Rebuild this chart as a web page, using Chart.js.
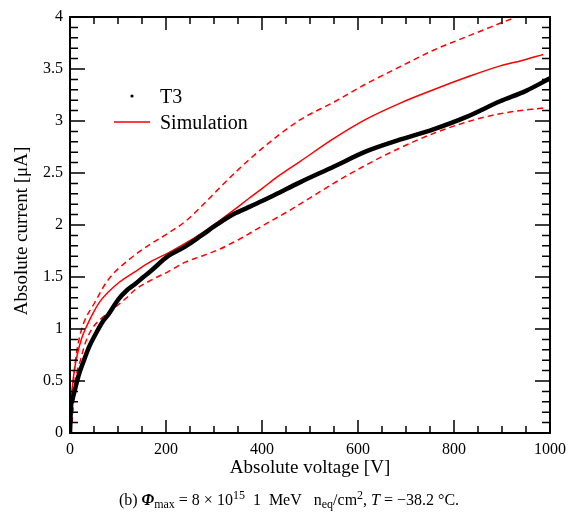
<!DOCTYPE html>
<html>
<head>
<meta charset="utf-8">
<script src="https://cdn.jsdelivr.net/npm/chart.js@4.4.0/dist/chart.umd.min.js"></script>
<style>
  html, body { margin: 0; padding: 0; background: #fff; }
  #wrap { width: 579px; height: 516px; }
</style>
</head>
<body>
<div id="wrap"><canvas id="ivChart" width="579" height="516"></canvas></div>
<script>
// measured T3 data (absolute values)
const t3Voltage = [0, 2, 5, 12, 19, 30, 40, 52, 68, 80, 100, 118, 135, 153, 169, 204, 239, 274, 308, 343, 367, 400, 431, 479, 549, 618, 687, 757, 826, 896, 950, 1000];
const t3Current = [0, 0.25, 0.32, 0.45, 0.57, 0.71, 0.83, 0.94, 1.07, 1.14, 1.28, 1.37, 1.43, 1.50, 1.56, 1.70, 1.79, 1.90, 2.01, 2.11, 2.16, 2.23, 2.30, 2.41, 2.56, 2.71, 2.82, 2.92, 3.04, 3.19, 3.29, 3.41];

// simulation, central curve
const simVoltage = [0, 2, 5, 9, 15, 25, 35, 50, 65, 100, 135, 169, 204, 239, 274, 308, 343, 371, 400, 431, 479, 549, 618, 687, 757, 826, 896, 940, 986];
const simCurrent = [0, 0.28, 0.45, 0.60, 0.75, 0.92, 1.03, 1.17, 1.28, 1.44, 1.55, 1.65, 1.73, 1.82, 1.92, 2.03, 2.15, 2.25, 2.35, 2.46, 2.61, 2.83, 3.02, 3.17, 3.30, 3.42, 3.53, 3.58, 3.64];

// simulation, upper / lower bands (dashed)
const simUpVoltage = [0, 3, 10, 17, 28, 51, 79, 121, 169, 204, 239, 274, 308, 350, 396, 479, 549, 618, 687, 757, 826, 880, 930, 960];
const simUpCurrent = [0, 0.2, 0.64, 0.86, 1.05, 1.25, 1.47, 1.66, 1.82, 1.92, 2.03, 2.18, 2.34, 2.53, 2.72, 3.01, 3.18, 3.36, 3.52, 3.68, 3.81, 3.91, 4.0, 4.05];
const simLowVoltage = [0, 4, 10, 23, 33, 47, 65, 86, 118, 135, 169, 204, 239, 274, 308, 343, 371, 400, 450, 500, 549, 618, 687, 757, 826, 896, 993];
const simLowCurrent = [0, 0.09, 0.45, 0.72, 0.88, 1.01, 1.10, 1.18, 1.30, 1.375, 1.47, 1.55, 1.64, 1.70, 1.76, 1.84, 1.91, 1.99, 2.12, 2.26, 2.40, 2.58, 2.74, 2.88, 2.99, 3.07, 3.13];

const toPoints = (xs, ys) => xs.map((v, i) => ({ x: v, y: ys[i] }));

const SERIF = '"Liberation Serif", "DejaVu Serif", serif';

// frame, inward ticks, legend, axis titles and caption
const decorPlugin = {
  id: 'decor',
  afterDraw(chart) {
    const { ctx, chartArea: a, scales: { x, y } } = chart;
    ctx.save();
    ctx.strokeStyle = '#000';
    ctx.lineWidth = 1.5;
    for (let v = 0; v <= 1000; v += 50) {
      const px = x.getPixelForValue(v);
      const len = v % 200 === 0 ? 13 : 7;
      ctx.beginPath();
      ctx.moveTo(px, a.bottom); ctx.lineTo(px, a.bottom - len);
      ctx.moveTo(px, a.top); ctx.lineTo(px, a.top + len);
      ctx.stroke();
    }
    for (let k = 0; k <= 40; k++) {
      const py = y.getPixelForValue(k / 10);
      const len = k % 5 === 0 ? 15 : 8;
      ctx.beginPath();
      ctx.moveTo(a.left, py); ctx.lineTo(a.left + len, py);
      ctx.moveTo(a.right, py); ctx.lineTo(a.right - len, py);
      ctx.stroke();
    }
    ctx.lineWidth = 2;
    ctx.strokeRect(a.left, a.top, a.right - a.left, a.bottom - a.top);

    // legend
    ctx.fillStyle = '#000';
    ctx.beginPath(); ctx.arc(132, 96, 1.6, 0, Math.PI * 2); ctx.fill();
    ctx.strokeStyle = '#ff0000'; ctx.lineWidth = 1.5;
    ctx.beginPath(); ctx.moveTo(114, 122); ctx.lineTo(150, 122); ctx.stroke();
    ctx.font = '20px ' + SERIF;
    ctx.textAlign = 'left'; ctx.textBaseline = 'alphabetic';
    ctx.fillText('T3', 160, 103);
    ctx.fillText('Simulation', 160, 129);

    // axis titles
    ctx.font = '19px ' + SERIF;
    ctx.textAlign = 'center';
    ctx.fillText('Absolute voltage [V]', (a.left + a.right) / 2, 473);
    ctx.save();
    ctx.translate(22, (a.top + a.bottom) / 2 + 6);
    ctx.rotate(-Math.PI / 2);
    ctx.textBaseline = 'middle';
    ctx.fillText('Absolute current [\u03BCA]', 0, 0);
    ctx.restore();

    // caption
    const parts = [
      { t: '(b) ' },
      { t: '\u03A6', it: true, bold: true },
      { t: 'max', sub: true },
      { t: ' = 8 \u00D7 10' },
      { t: '15', sup: true },
      { t: '  1  MeV   n' },
      { t: 'eq', sub: true },
      { t: '/cm' },
      { t: '2', sup: true },
      { t: ', ' },
      { t: 'T', it: true },
      { t: ' = \u221238.2 \u00B0C.' }
    ];
    const fontFor = p => (p.it ? 'italic ' : '') + (p.bold ? 'bold ' : '') + ((p.sub || p.sup) ? '12px ' : '16px ') + SERIF;
    let total = 0;
    parts.forEach(p => { ctx.font = fontFor(p); p.w = ctx.measureText(p.t).width; total += p.w; });
    let cx = 289 - total / 2;
    const base = 505;
    ctx.textAlign = 'left';
    ctx.textBaseline = 'alphabetic';
    parts.forEach(p => {
      ctx.font = fontFor(p);
      const dy = p.sub ? 3 : p.sup ? -6 : 0;
      ctx.fillText(p.t, cx, base + dy);
      cx += p.w;
    });
    ctx.restore();
  }
};

const ctx = document.getElementById('ivChart').getContext('2d');

new Chart(ctx, {
  type: 'line',
  data: {
    datasets: [
      { label: 'T3', data: toPoints(t3Voltage, t3Current), borderColor: '#000', borderWidth: 4.5, pointRadius: 0, cubicInterpolationMode: 'monotone' },
      { label: 'Simulation', data: toPoints(simVoltage, simCurrent), borderColor: '#ff0000', borderWidth: 1.5, pointRadius: 0, cubicInterpolationMode: 'monotone' },
      { label: 'Simulation upper', data: toPoints(simUpVoltage, simUpCurrent), borderColor: '#ff0000', borderWidth: 1.5, borderDash: [6, 4], pointRadius: 0, cubicInterpolationMode: 'monotone' },
      { label: 'Simulation lower', data: toPoints(simLowVoltage, simLowCurrent), borderColor: '#ff0000', borderWidth: 1.5, borderDash: [6, 4], pointRadius: 0, cubicInterpolationMode: 'monotone' }
    ]
  },
  options: {
    responsive: false,
    animation: false,
    layout: { padding: { top: 17, right: 29, left: 0, bottom: 0 } },
    plugins: { legend: { display: false }, tooltip: { enabled: false } },
    scales: {
      x: {
        type: 'linear', min: 0, max: 1000,
        grid: { display: false, drawTicks: false },
        border: { display: false },
        ticks: { stepSize: 200, padding: 7, color: '#000', font: { family: SERIF, size: 16 }, maxRotation: 0, callback: v => String(v) },
        afterFit: s => { s.height = 83; }
      },
      y: {
        min: 0, max: 4,
        grid: { display: false, drawTicks: false },
        border: { display: false },
        ticks: { stepSize: 0.5, padding: 7, color: '#000', font: { family: SERIF, size: 16 }, callback: v => String(v) },
        afterFit: s => { s.width = 70; }
      }
    }
  },
  plugins: [decorPlugin]
});
</script>
</body>
</html>
